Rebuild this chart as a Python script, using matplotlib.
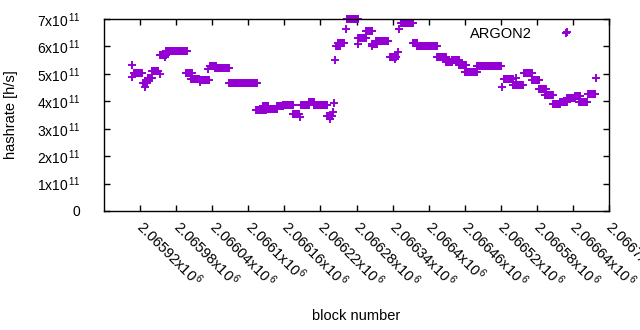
import matplotlib
matplotlib.use("Agg")
import matplotlib.pyplot as plt
import numpy as np

plt.rcParams["font.family"] = ["Liberation Sans", "DejaVu Sans"]
plt.rcParams["mathtext.fontset"] = "custom"
plt.rcParams["mathtext.rm"] = "Liberation Sans"
plt.rcParams["mathtext.it"] = "Liberation Sans"

# runs of blocks that share one hashrate reading (units of 1e11 h/s)
run_start = [
    2065906, 2065910, 2065907, 2065925, 2065929, 2065933, 2065940, 2065953,
    2065953, 2065962, 2065963, 2065996, 2066005, 2066020, 2066020, 2066033,
    2066036, 2066045, 2066068, 2066113, 2066124, 2066133, 2066148, 2066158,
    2066174, 2066186, 2066188, 2066201, 2066209, 2066243, 2066231, 2066236,
    2066241, 2066245, 2066246, 2066249, 2066262, 2066264, 2066283, 2066283,
    2066296, 2066306, 2066306, 2066312, 2066336, 2066344, 2066349, 2066351,
    2066354, 2066374, 2066381, 2066414, 2066429, 2066439, 2066451, 2066460,
    2066480, 2066522, 2066525, 2066540, 2066545, 2066549, 2066559, 2066572,
    2066584, 2066593, 2066607, 2066618, 2066630, 2066630, 2066643, 2066650,
    2066665, 2066678,
]
run_end = [
    2065906, 2065923, 2065907, 2065932, 2065929, 2065940, 2065950, 2065953,
    2065963, 2065962, 2065998, 2066006, 2066018, 2066020, 2066035, 2066033,
    2066046, 2066068, 2066114, 2066129, 2066133, 2066148, 2066158, 2066174,
    2066184, 2066186, 2066201, 2066209, 2066231, 2066243, 2066239, 2066236,
    2066241, 2066245, 2066253, 2066259, 2066262, 2066283, 2066283, 2066296,
    2066306, 2066306, 2066314, 2066332, 2066346, 2066344, 2066349, 2066351,
    2066374, 2066381, 2066414, 2066429, 2066439, 2066451, 2066462, 2066480,
    2066520, 2066522, 2066540, 2066547, 2066545, 2066557, 2066572, 2066584,
    2066595, 2066607, 2066618, 2066630, 2066643, 2066630, 2066652, 2066663,
    2066677, 2066678,
]
run_value = [
    5.32, 5.02, 4.89, 4.67, 4.52, 4.85, 5.10, 4.99,
    5.67, 5.60, 5.85, 5.03, 4.81, 4.70, 4.79, 5.16,
    5.27, 5.20, 4.68, 3.68, 3.83, 3.72, 3.83, 3.86,
    3.55, 3.43, 3.86, 3.97, 3.86, 3.93, 3.45, 3.35,
    3.60, 5.49, 6.00, 6.12, 6.62, 7.00, 6.08, 6.31,
    6.58, 6.00, 6.09, 6.20, 5.63, 5.54, 5.80, 6.63,
    6.85, 6.12, 6.01, 5.63, 5.43, 5.52, 5.34, 5.05,
    5.27, 4.52, 4.82, 4.61, 4.85, 4.61, 5.03, 4.78,
    4.43, 4.23, 3.91, 3.97, 4.12, 6.51, 4.19, 3.97,
    4.27, 4.85,
]

x_ticks = list(range(2065920, 2066701, 60))
y_ticks = [0, 1e11, 2e11, 3e11, 4e11, 5e11, 6e11, 7e11]

COLOR = "#9400D3"


def x_label_text(value):
    mant = f"{value / 1e6:.6f}".rstrip("0").rstrip(".")
    return mant + r"x10$^{\,6}$"


def y_label_text(value):
    if value == 0:
        return "0"
    return f"{value / 1e11:.0f}" + r"x10$^{\,11}$"


blocks = np.concatenate([np.arange(s, e + 1) for s, e in zip(run_start, run_end)])
rates = np.concatenate(
    [np.full(e - s + 1, v * 1e11) for s, e, v in zip(run_start, run_end, run_value)]
)

fig = plt.figure(figsize=(6.4, 3.3), dpi=100)
ax = fig.add_axes([104 / 640, 119 / 330, 505 / 640, 192 / 330])

ax.plot(blocks, rates, linestyle="None", marker="+", markersize=6,
        markeredgewidth=1.4, color=COLOR, clip_on=False, label="ARGON2")

ax.set_xlim(2065860, 2066700)
ax.set_ylim(0, 7e11)
ax.set_xticks(x_ticks)
ax.set_xticklabels([x_label_text(v) for v in x_ticks])
ax.set_yticks(y_ticks)
ax.set_yticklabels([y_label_text(v) for v in y_ticks])

ax.tick_params(direction="in", length=4, width=1, top=True, right=True,
               labelsize=10, colors="black")
ax.tick_params(axis="y", pad=17)
ax.tick_params(axis="x", pad=9, labelsize=10.5)
for lbl in ax.get_xticklabels():
    lbl.set_rotation(-45)
    lbl.set_rotation_mode("anchor")
    lbl.set_ha("left")
    lbl.set_va("center")

for spine in ax.spines.values():
    spine.set_linewidth(1)

ax.set_ylabel("hashrate [h/s]", fontsize=10.5)
ax.yaxis.set_label_coords(-0.17, 0.5)
ax.set_xlabel("block number", fontsize=10.5)
ax.xaxis.set_label_coords(0.5, -0.51)

ax.legend(loc="upper right", bbox_to_anchor=(0.94, 0.99), frameon=False,
          markerfirst=False, fontsize=10.5, handletextpad=1.8,
          handlelength=1.0, borderaxespad=0)

fig.savefig("out.png", dpi=100)
